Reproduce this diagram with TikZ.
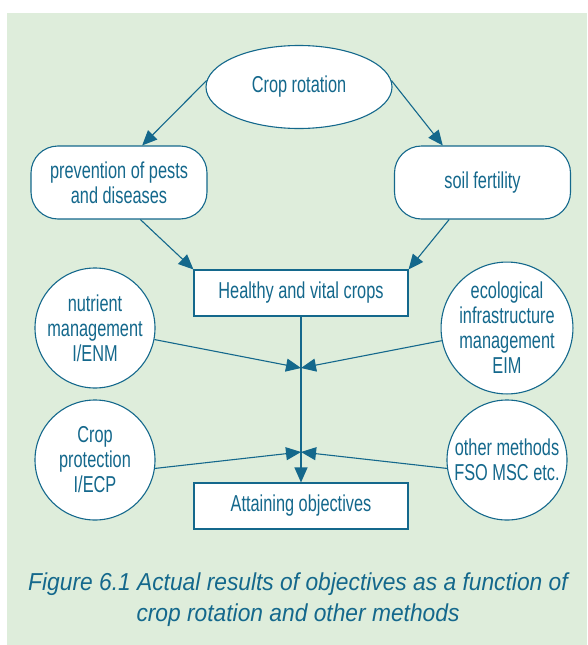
\documentclass[tikz,border=0pt]{standalone}
\usepackage{fontspec}
\usepackage{tikz}
\usetikzlibrary{shapes,arrows.meta}
\newfontfamily\boxfont{Liberation Sans}[FakeStretch=0.71]
\newfontfamily\figfont{Liberation Sans}[FakeStretch=0.93]
\definecolor{ink}{RGB}{20,104,140}
\definecolor{leaf}{RGB}{222,237,219}

\begin{document}
\begin{tikzpicture}[x=1pt, y=-1pt,
	every node/.style={draw=ink, fill=white, text=ink, line width=1.1pt, inner sep=0pt, align=center, font=\boxfont\fontsize{23}{25}\selectfont},
	oval/.style={ellipse, minimum width=186pt, minimum height=83pt},
	pill/.style={rectangle, rounded corners=27pt, minimum width=176pt, minimum height=73pt},
	disc/.style={circle, minimum size=120pt},
	box/.style={rectangle, minimum width=214pt, minimum height=46pt},
	flow/.style={draw=ink, line width=1.1pt, -{Triangle[length=15pt,width=13pt]}}]
	
		\useasboundingbox (0,0) rectangle (587,645);
		\fill[leaf] (7,13) rectangle (587,645);
		
		\node[oval] (rotation) at (299,87) {Crop rotation};
		\node[pill] (pests) at (119,182.5) {prevention of pests\\and diseases};
		\node[pill] (soil) at (482.5,182.5) {soil fertility};
		\node[box] (healthy) at (301,293) {Healthy and vital crops};
		\node[disc] (nutrient) at (95,328) {nutrient\\management\\I/ENM};
		\node[disc] (eim) at (507,328) {ecological\\infrastructure\\management\\EIM};
		\node[disc] (protection) at (95,460) {Crop\\protection\\I/ECP};
		\node[disc] (other) at (507,460) {other methods\\FSO MSC etc.};
		\node[box] (attain) at (301,506) {Attaining objectives};
		\coordinate (j1) at (301,368);
		\coordinate (j2) at (301,452);
		\node[draw=none, fill=none, font=\figfont\itshape\fontsize{24.5}{31}\selectfont] (caption) at (298,600) {Figure 6.1 Actual results of objectives as a function of\\crop rotation and other methods};
		
		\draw[flow] (rotation.176) -- (pests.58);
		\draw[flow] (rotation.4) -- (soil.137);
		\draw[flow] (pests.-60) -- (healthy.north west);
		\draw[flow] (soil.-132) -- (healthy.north east);
		\draw[flow] (healthy) -- (attain);
		\draw[flow] (nutrient) -- (j1);
		\draw[flow] (eim) -- (j1);
		\draw[flow] (protection.-8) -- (j2);
		\draw[flow] (other.188) -- (j2);
		
	\end{tikzpicture}
\end{document}
